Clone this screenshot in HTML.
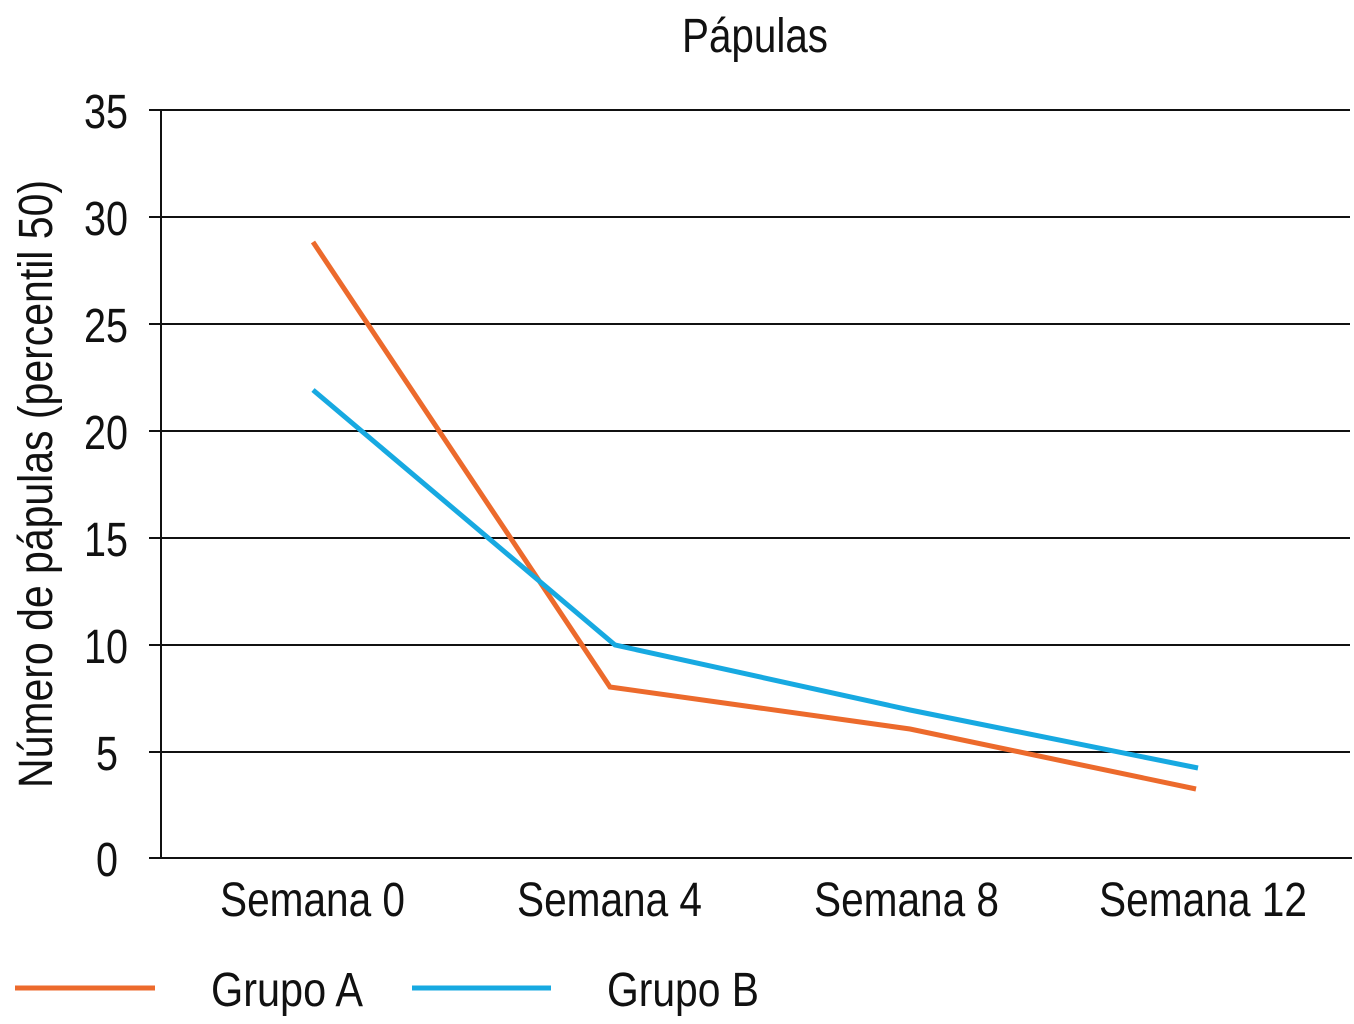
<!DOCTYPE html>
<html><head><meta charset="utf-8"><style>
html,body{margin:0;padding:0;background:#fff;}
svg{display:block;}
text{font-family:"Liberation Sans",sans-serif;fill:#111;}
</style></head><body>
<svg width="1354" height="1024" viewBox="0 0 1354 1024" xmlns="http://www.w3.org/2000/svg">
<text x="682" y="52" font-size="48" textLength="146" lengthAdjust="spacingAndGlyphs">Pápulas</text>
<g stroke="#111" stroke-width="2">
<line x1="149" y1="110" x2="1350" y2="110"/>
<line x1="149" y1="217" x2="1350" y2="217"/>
<line x1="149" y1="324" x2="1350" y2="324"/>
<line x1="149" y1="431" x2="1350" y2="431"/>
<line x1="149" y1="538" x2="1350" y2="538"/>
<line x1="149" y1="645" x2="1350" y2="645"/>
<line x1="149" y1="752" x2="1350" y2="752"/>
<line x1="149" y1="858" x2="1352" y2="858"/>
<line x1="161" y1="110" x2="161" y2="858"/>
</g>
<g font-size="48" lengthAdjust="spacingAndGlyphs">
<text x="84" y="128" textLength="44" lengthAdjust="spacingAndGlyphs">35</text>
<text x="84" y="235" textLength="44" lengthAdjust="spacingAndGlyphs">30</text>
<text x="84" y="342" textLength="44" lengthAdjust="spacingAndGlyphs">25</text>
<text x="84" y="449" textLength="44" lengthAdjust="spacingAndGlyphs">20</text>
<text x="84" y="556" textLength="44" lengthAdjust="spacingAndGlyphs">15</text>
<text x="84" y="663" textLength="44" lengthAdjust="spacingAndGlyphs">10</text>
<text x="96" y="770" textLength="22" lengthAdjust="spacingAndGlyphs">5</text>
<text x="96" y="876" textLength="22" lengthAdjust="spacingAndGlyphs">0</text>
</g>
<text transform="translate(52,788) rotate(-90)" font-size="48" textLength="608" lengthAdjust="spacingAndGlyphs">Número de pápulas (percentil 50)</text>
<g font-size="48">
<text x="220" y="916" textLength="185" lengthAdjust="spacingAndGlyphs">Semana 0</text>
<text x="517" y="916" textLength="185" lengthAdjust="spacingAndGlyphs">Semana 4</text>
<text x="814" y="916" textLength="185" lengthAdjust="spacingAndGlyphs">Semana 8</text>
<text x="1099" y="916" textLength="208" lengthAdjust="spacingAndGlyphs">Semana 12</text>
</g>
<polyline points="313,242 610,687 910,729 1196,789" fill="none" stroke="#ec6a2c" stroke-width="5"/>
<polyline points="313,390 615,645 910,710 1198,768" fill="none" stroke="#17a9e1" stroke-width="5"/>
<line x1="15" y1="988" x2="155" y2="988" stroke="#ec6a2c" stroke-width="5"/>
<text x="211" y="1006" font-size="48" textLength="152" lengthAdjust="spacingAndGlyphs">Grupo A</text>
<line x1="412" y1="988" x2="551" y2="988" stroke="#17a9e1" stroke-width="5"/>
<text x="607" y="1006" font-size="48" textLength="152" lengthAdjust="spacingAndGlyphs">Grupo B</text>
</svg>
</body></html>
